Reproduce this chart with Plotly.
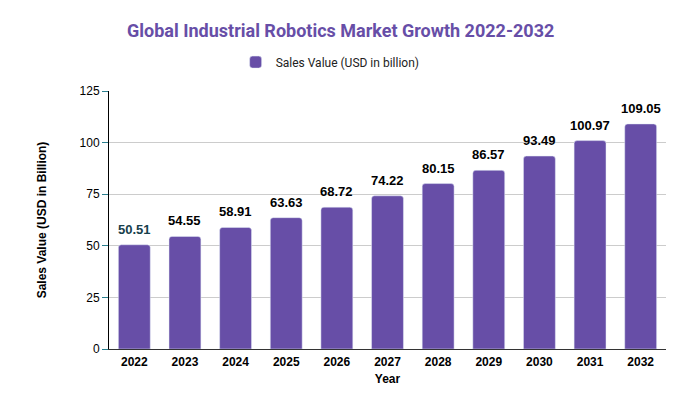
import plotly.graph_objects as go

# Chart data
years = ["2022", "2023", "2024", "2025", "2026", "2027", "2028", "2029", "2030", "2031", "2032"]
sales = [50.51, 54.55, 58.91, 63.63, 68.72, 74.22, 80.15, 86.57, 93.49, 100.97, 109.05]
y_ticks = [0, 25, 50, 75, 100, 125]

BAR_COLOR = "#674ea7"
label_colors = ["#17404c"] + ["#000000"] * (len(sales) - 1)

fig = go.Figure()

fig.add_trace(go.Bar(
    x=years,
    y=sales,
    name="Sales Value (USD in billion)",
    marker=dict(color=BAR_COLOR, cornerradius=3),
    width=0.63,
))

# value labels sit a little above each bar
# (category axis: annotation x is the category's serial number)
for i, (val, col) in enumerate(zip(sales, label_colors)):
    fig.add_annotation(
        x=i, y=val, text=f"<b>{val:.2f}</b>",
        showarrow=False, yanchor="bottom", yshift=6,
        font=dict(family="Liberation Sans, Arial", size=13, color=col),
    )

fig.update_layout(
    width=679,
    height=417,
    paper_bgcolor="white",
    plot_bgcolor="white",
    margin=dict(l=101, r=21, t=83, b=76, autoexpand=False),
    title=dict(
        text="<b>Global Industrial Robotics Market Growth 2022-2032</b>",
        font=dict(family="Roboto", size=18, color="#674ea7"),
        x=0.49, xanchor="center", y=0.945, yanchor="middle",
    ),
    legend=dict(
        orientation="h",
        x=0.397, xanchor="center",
        y=1.112, yanchor="middle",
        font=dict(family="Roboto", size=12, color="#222222"),
    ),
    showlegend=True,
    bargap=0.37,
)

fig.update_xaxes(
    type="category",
    title=dict(text="<b>Year</b>", font=dict(family="Liberation Sans, Arial", size=12, color="black"), standoff=6),
    tickfont=dict(family="Liberation Sans, Arial", size=12, color="black"),
    ticklabelstandoff=2,
    showline=True, linecolor="#333333", linewidth=1,
    showgrid=False,
    tickprefix="<b>", ticksuffix="</b>",
)

fig.update_yaxes(
    title=dict(text="<b>Sales Value (USD in Billion)</b>", font=dict(family="Liberation Sans, Arial", size=12, color="black"), standoff=30),
    range=[0, 125],
    tickvals=y_ticks,
    tickfont=dict(family="Liberation Sans, Arial", size=12, color="black"),
    tickprefix="<b>", ticksuffix="</b>",
    ticks="outside", ticklen=6, tickcolor="#2a7f8f",
    showline=True, linecolor="black", linewidth=1,
    showgrid=True, gridcolor="#cccccc", gridwidth=1,
    zeroline=False,
)

fig.write_html("out.html")
